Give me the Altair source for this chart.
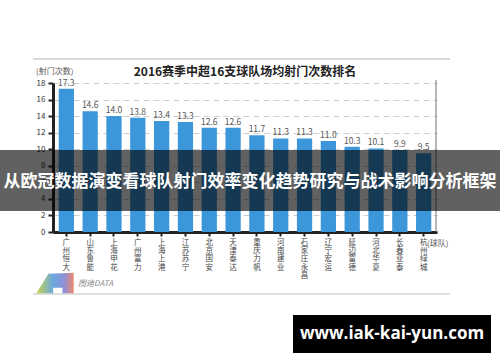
import altair as alt
import pandas as pd

teams = ["广州恒大", "山东鲁能", "上海申花", "广州富力", "上海上港", "江苏苏宁", "北京国安", "天津泰达",
         "重庆力帆", "河南建业", "石家庄永昌", "辽宁宏运", "延边富德", "河北华夏", "长春亚泰", "杭州绿城"]
shots = [17.3, 14.6, 14.0, 13.8, 13.4, 13.3, 12.6, 12.6, 11.7, 11.3, 11.3, 11.0, 10.3, 10.1, 9.9, 9.5]
y_ticks = [0, 2, 4, 6, 8, 10, 12, 14, 16, 18]

title_text = "2016赛季中超16支球队场均射门次数排名"
y_title = "(射门次数)"
x_title = "(球队)"
logo_text = "图迪DATA"
banner_text = "从欧冠数据演变看球队射门效率变化趋势研究与战术影响分析框架"
url_text = "www.iak-kai-yun.com"

FONT = "Noto Sans CJK SC"
df = pd.DataFrame({"team": teams, "shots": shots, "label": [f"{v:.1f}" for v in shots]})

x_scale = alt.Scale(paddingInner=0.36, paddingOuter=0.24)
y_scale = alt.Scale(domain=[0, 18], nice=False)

x_axis = alt.Axis(title=None, labelAngle=0, labelExpr="split(datum.label, '')",
                  labelFontSize=7.5, labelLineHeight=8.4, labelColor="#444",
                  labelFont=FONT, labelBaseline="top", labelPadding=2,
                  labelOverlap=False,
                  domainColor="#222", domainWidth=3, tickColor="#222",
                  tickWidth=2, tickSize=4, grid=False)
y_axis = alt.Axis(title=None, values=y_ticks, labelFontSize=8, labelColor="#333",
                  labelFont=FONT, labelPadding=3, labelOverlap=False,
                  labelSeparation=0,
                  domainColor="#222", domainWidth=3, tickColor="#222",
                  tickWidth=2, tickSize=5,
                  grid=True, gridColor="#cfcfcf", gridDash=[6, 4], gridWidth=1)

x_enc = alt.X("team:N", sort=teams, scale=x_scale, axis=x_axis)
y_enc = alt.Y("shots:Q", scale=y_scale, axis=y_axis)

base = alt.Chart(df)
bars = base.mark_bar(color="#3b97d9").encode(x=x_enc, y=y_enc)
vals = base.mark_text(dy=-6, fontSize=8.5, color="#555", font=FONT).encode(
    x=x_enc, y=y_enc, text="label:N")

one = pd.DataFrame({"k": [0]})
ob = alt.Chart(one)

top_line = ob.mark_rule(color="#cccccc", strokeWidth=1.5).encode(
    x=alt.value(-20), x2=alt.value(397), y=alt.value(-24))
bottom_line = ob.mark_rule(color="#d5d5d5", strokeWidth=1.5).encode(
    x=alt.value(-20), x2=alt.value(397), y=alt.value(211))
right_line = ob.mark_rule(color="#888888", strokeWidth=1.2).encode(
    x=alt.value(383), y=alt.value(-3), y2=alt.value(149))
title = ob.mark_text(text=title_text, fontSize=12, fontWeight="bold", color="#222",
                     font=FONT).encode(x=alt.value(192), y=alt.value(-11))
ytitle = ob.mark_text(text=y_title, fontSize=8, color="#555", font=FONT, align="left").encode(
    x=alt.value(-17), y=alt.value(-11))
xtitle = ob.mark_text(text=x_title, fontSize=8, color="#555", font=FONT, align="left").encode(
    x=alt.value(374), y=alt.value(161))
logo_shape = ob.mark_point(
    shape="M -1 0.55 L -0.35 -0.5 L 1 -0.55 L 1 0.55 L 0.4 0.55 L 0.4 0.25 L -0.1 0.25 L -0.1 0.55 Z",
    size=1400, filled=True, opacity=1,
    fill={"gradient": "linear", "x1": 0, "y1": 0, "x2": 1, "y2": 0,
          "stops": [{"offset": 0, "color": "#c8d84a"}, {"offset": 0.45, "color": "#6aa8e0"},
                    {"offset": 0.75, "color": "#8f8fd6"}, {"offset": 1, "color": "#f08a6a"}]}
).encode(x=alt.value(2), y=alt.value(200))
logo_txt = ob.mark_text(text=logo_text, fontSize=8, color="#888", font=FONT, align="left",
                        fontStyle="italic").encode(x=alt.value(25), y=alt.value(201))

banner = ob.mark_rect(color="#000000", opacity=0.62).encode(
    x=alt.value(-53), x2=alt.value(447), y=alt.value(67), y2=alt.value(128))
banner_t = ob.mark_text(text=banner_text, fontSize=17, fontWeight="bold", color="white",
                        font=FONT).encode(x=alt.value(197), y=alt.value(99))
box = ob.mark_rect(color="#000000").encode(
    x=alt.value(240), x2=alt.value(438), y=alt.value(232), y2=alt.value(270))
box_t = ob.mark_text(text=url_text, fontSize=17, fontWeight="bold", color="white",
                     font="Open Sans").encode(x=alt.value(339), y=alt.value(251))

chart = alt.layer(top_line, bottom_line, right_line, bars, vals, title, ytitle, xtitle,
                  logo_shape, logo_txt, banner, banner_t, box, box_t).properties(
    width=384, height=149,
    autosize=alt.AutoSizeParams(type="none"),
    padding={"left": 53, "top": 83, "right": 63, "bottom": 130},
    background="white"
).configure_view(stroke=None)

chart.save("out.html", embed_options={"renderer": "svg", "actions": False})
